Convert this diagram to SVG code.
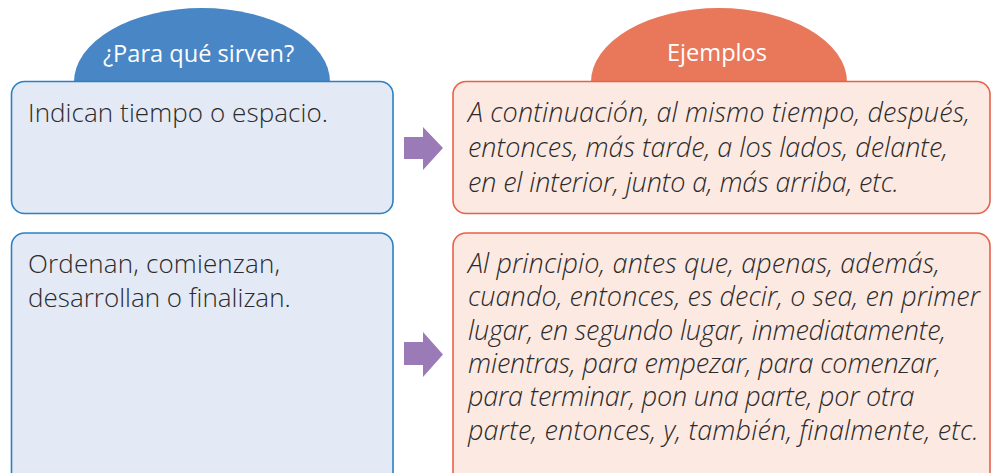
<svg xmlns="http://www.w3.org/2000/svg" width="991" height="473" viewBox="0 0 991 473">
<style>
.bbox{fill:#e3e9f5;stroke:#2d80c4;stroke-width:1.6}
.obox{fill:#fce9e2;stroke:#e8604a;stroke-width:1.6}
.txt{font-family:"Open Sans",Lato,sans-serif;font-size:26px;font-weight:300;fill:#2b2b2b;font-variant-ligatures:none}
.it{font-style:italic;font-size:27px}
.ttl{font-family:"Open Sans",Lato,sans-serif;font-size:23.6px;font-weight:500;fill:#ffffff;text-anchor:middle}
.arr{fill:#9a7bb8}
</style>
<rect width="991" height="473" fill="#ffffff"/>
<g id="hdr-left">
<path d="M74,82 A128,74 0 0 1 330,82 Z" fill="#4886c5"/>
<text class="ttl" x="198.5" y="61.5">¿Para qué sirven?</text>
</g>
<g id="hdr-right">
<path d="M591,82 A128,74 0 0 1 847,82 Z" fill="#e9785b"/>
<text class="ttl" x="717" y="61">Ejemplos</text>
</g>
<g id="box-l1">
<rect class="bbox" x="11.5" y="81.5" width="381.5" height="132" rx="13"/>
<text class="txt" x="28" y="121.7" textLength="300" lengthAdjust="spacing">Indican tiempo o espacio.</text>
</g>
<g id="box-r1">
<rect class="obox" x="453" y="81.5" width="537" height="132" rx="13"/>
<text class="txt it"><tspan x="468" y="121.7" textLength="502" lengthAdjust="spacing">A continuación, al mismo tiempo, después,</tspan><tspan x="468" y="156.7" textLength="480" lengthAdjust="spacing">entonces, más tarde, a los lados, delante,</tspan><tspan x="468" y="191.7" textLength="431" lengthAdjust="spacing">en el interior, junto a, más arriba, etc.</tspan></text>
</g>
<g id="box-l2">
<rect class="bbox" x="11.5" y="233" width="381.5" height="260" rx="13"/>
<text class="txt"><tspan x="28" y="273" textLength="252" lengthAdjust="spacing">Ordenan, comienzan,</tspan><tspan x="28" y="307" textLength="262.7" lengthAdjust="spacing">desarrollan o finalizan.</tspan></text>
</g>
<g id="box-r2">
<rect class="obox" x="453" y="233" width="537" height="260" rx="13"/>
<text class="txt it"><tspan x="468" y="273" textLength="472" lengthAdjust="spacing">Al principio, antes que, apenas, además,</tspan><tspan x="468" y="306.3" textLength="512" lengthAdjust="spacing">cuando, entonces, es decir, o sea, en primer</tspan><tspan x="468" y="339.6" textLength="478" lengthAdjust="spacing">lugar, en segundo lugar, inmediatamente,</tspan><tspan x="468" y="373" textLength="473" lengthAdjust="spacing">mientras, para empezar, para comenzar,</tspan><tspan x="468" y="406.3" textLength="446.5" lengthAdjust="spacing">para terminar, pon una parte, por otra</tspan><tspan x="468" y="439.6" textLength="510.6" lengthAdjust="spacing">parte, entonces, y, también, finalmente, etc.</tspan></text>
</g>
<g id="connectors">
<path class="arr" d="M404,137 H423 V127 L443,148 L423,170 V159 H404 Z"/>
<path class="arr" d="M404,342 H423 V332 L443,354.5 L423,377 V365 H404 Z"/>
</g>
</svg>
